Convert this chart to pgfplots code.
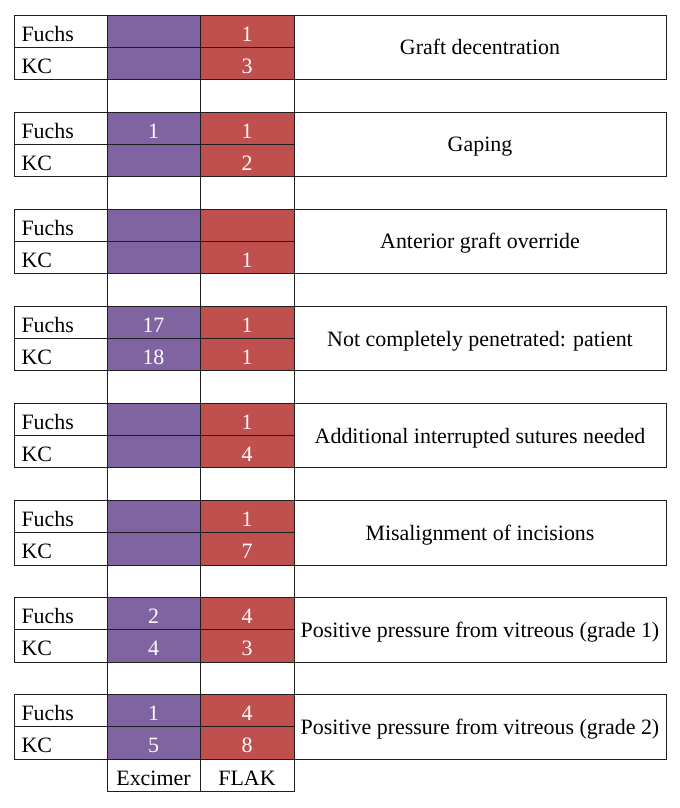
\documentclass[border=0pt]{standalone}
\usepackage{pgfplots}
\pgfplotsset{compat=1.18}
\usepackage{fontspec}
\setmainfont{Liberation Serif}
\definecolor{exc}{RGB}{128,100,162}
\definecolor{flak}{RGB}{192,80,77}
\definecolor{bord}{RGB}{30,30,30}
\newcommand\cell[5]{\addplot[draw=bord, line width=0.9bp, fill=#5] coordinates {(#1,#3) (#2,#3) (#2,#4) (#1,#4)} -- cycle;}
\newcommand\grp[3]{%
  \cell{14}{107}{#1}{#2}{white}\cell{14}{107}{#2}{#3}{white}%
  \cell{107}{200}{#1}{#2}{exc}\cell{107}{200}{#2}{#3}{exc}%
  \cell{200}{294}{#1}{#2}{flak}\cell{200}{294}{#2}{#3}{flak}%
  \cell{294}{666}{#1}{#3}{white}}
\newcommand\gap[2]{\cell{107}{200}{#1}{#2}{white}\cell{200}{294}{#1}{#2}{white}}
\newcommand\cf{\fontsize{22}{24}\selectfont}
\begin{document}
\begin{tikzpicture}
\begin{axis}[
  width=680bp, height=808bp, scale only axis, hide axis, clip=false,
  xmin=0, xmax=680, ymin=-0.4637, ymax=24.513, y dir=reverse,
]
\path (rel axis cs:0,0) rectangle (rel axis cs:1,1);
\grp{0}{1}{2}\gap{2}{3}
\grp{3}{4}{5}\gap{5}{6}
\grp{6}{7}{8}\gap{8}{9}
\grp{9}{10}{11}\gap{11}{12}
\grp{12}{13}{14}\gap{14}{15}
\grp{15}{16}{17}\gap{17}{18}
\grp{18}{19}{20}\gap{20}{21}
\grp{21}{22}{23}
\gap{23}{24}
% cell values
\addplot[only marks, mark=none, nodes near coords, point meta=explicit symbolic,
  nodes near coords style={anchor=base, yshift=-10bp, text=white, font=\cf}]
  table[meta=v] {
x y v
247 0.5 1
247 1.5 3
153.5 3.5 1
247 3.5 1
247 4.5 2
247 7.5 1
153.5 9.5 17
153.5 10.5 18
247 9.5 1
247 10.5 1
247 12.5 1
247 13.5 4
247 15.5 1
247 16.5 7
153.5 18.5 2
153.5 19.5 4
247 18.5 4
247 19.5 3
153.5 21.5 1
153.5 22.5 5
247 21.5 4
247 22.5 8
};
% row labels
\addplot[only marks, mark=none, nodes near coords, point meta=explicit symbolic,
  nodes near coords style={anchor=base west, yshift=-10bp, text=black, font=\cf}]
  table[meta=v] {
x y v
18 0.5 Fuchs
18 1.5 KC
18 3.5 Fuchs
18 4.5 KC
18 6.5 Fuchs
18 7.5 KC
18 9.5 Fuchs
18 10.5 KC
18 12.5 Fuchs
18 13.5 KC
18 15.5 Fuchs
18 16.5 KC
18 18.5 Fuchs
18 19.5 KC
18 21.5 Fuchs
18 22.5 KC
};
% column labels
\addplot[only marks, mark=none, nodes near coords, point meta=explicit symbolic,
  nodes near coords style={anchor=base, yshift=-10bp, text=black, font=\cf}]
  table[meta=v] {
x y v
153.5 23.5 Excimer
247 23.5 FLAK
};
% titles
\addplot[only marks, mark=none, nodes near coords, point meta=explicit symbolic,
  nodes near coords style={anchor=base, yshift=-7.5bp, text=black, font=\cf}]
  table[meta=v, col sep=comma] {
x,y,v
480,1,Graft decentration
480,4,Gaping
480,7,Anterior graft override
480,10,Not completely penetrated: patient
480,13,Additional interrupted sutures needed
480,16,Misalignment of incisions
480,19,Positive pressure from vitreous (grade 1)
480,22,Positive pressure from vitreous (grade 2)
};
\end{axis}
\end{tikzpicture}
\end{document}
